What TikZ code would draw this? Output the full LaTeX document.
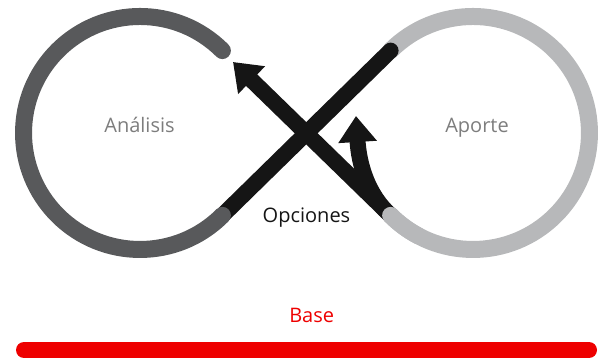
\documentclass[tikz,border=0pt]{standalone}
\usepackage{fontspec}
\setmainfont{Open Sans}
\usetikzlibrary{arrows.meta}
\definecolor{dk}{RGB}{88,89,91}
\definecolor{lt}{RGB}{183,184,186}
\definecolor{blk}{RGB}{21,21,21}
\definecolor{txtg}{RGB}{125,125,125}
\definecolor{rd}{RGB}{238,0,0}
\tikzset{
  ring/.style={line width=17pt, line cap=round},
  bar/.style={line width=16pt, line cap=round, blk},
  tipx/.style={-{Triangle[length=26pt,width=37pt]}},
  lbl/.style={anchor=base, inner sep=0pt, font=\fontsize{20pt}{22pt}\selectfont}
}
\begin{document}
\begin{tikzpicture}[x=1pt,y=1pt]
\useasboundingbox (0,0) rectangle (598,357);
\coordinate (cl) at (140,224);
\coordinate (cr) at (473,224);
\coordinate (l45) at (222.4,306.4);
\coordinate (l315) at (222.4,141.6);
\coordinate (r135) at (390.6,306.4);
\coordinate (r225) at (390.6,141.6);
\coordinate (tipA) at (233,295);
\coordinate (tipB) at (356,241);
\coordinate (barL) at (24,7);
\coordinate (barR) at (589,7);
% light grey ring
\draw[ring, lt] (r135) arc[start angle=135, end angle=-135, radius=116.5];
% black diagonal
\draw[bar] (l315) -- (r135);
% dark grey ring
\draw[ring, dk] (l45) arc[start angle=45, end angle=315, radius=116.5];
% arrows
\draw[bar, tipx] (r225) -- (tipA);
\draw[bar, tipx] (r225) .. controls (368,162) and (359,192) .. (tipB);
% light grey piece over arrow start
\draw[ring, lt] (cr) ++(-118:116.5) arc[start angle=-118, end angle=-135, radius=116.5];
% red base bar
\draw[line width=16pt, line cap=round, rd] (barL) -- (barR);
% labels
\node[lbl, txtg] (an) at (139.5,224.3) {Análisis};
\node[lbl, txtg] (ap) at (477,224.3) {Aporte};
\node[lbl, blk] (op) at (306.5,134.7) {Opciones};
\node[lbl, rd] (ba) at (311.7,34.3) {Base};
\end{tikzpicture}
\end{document}
